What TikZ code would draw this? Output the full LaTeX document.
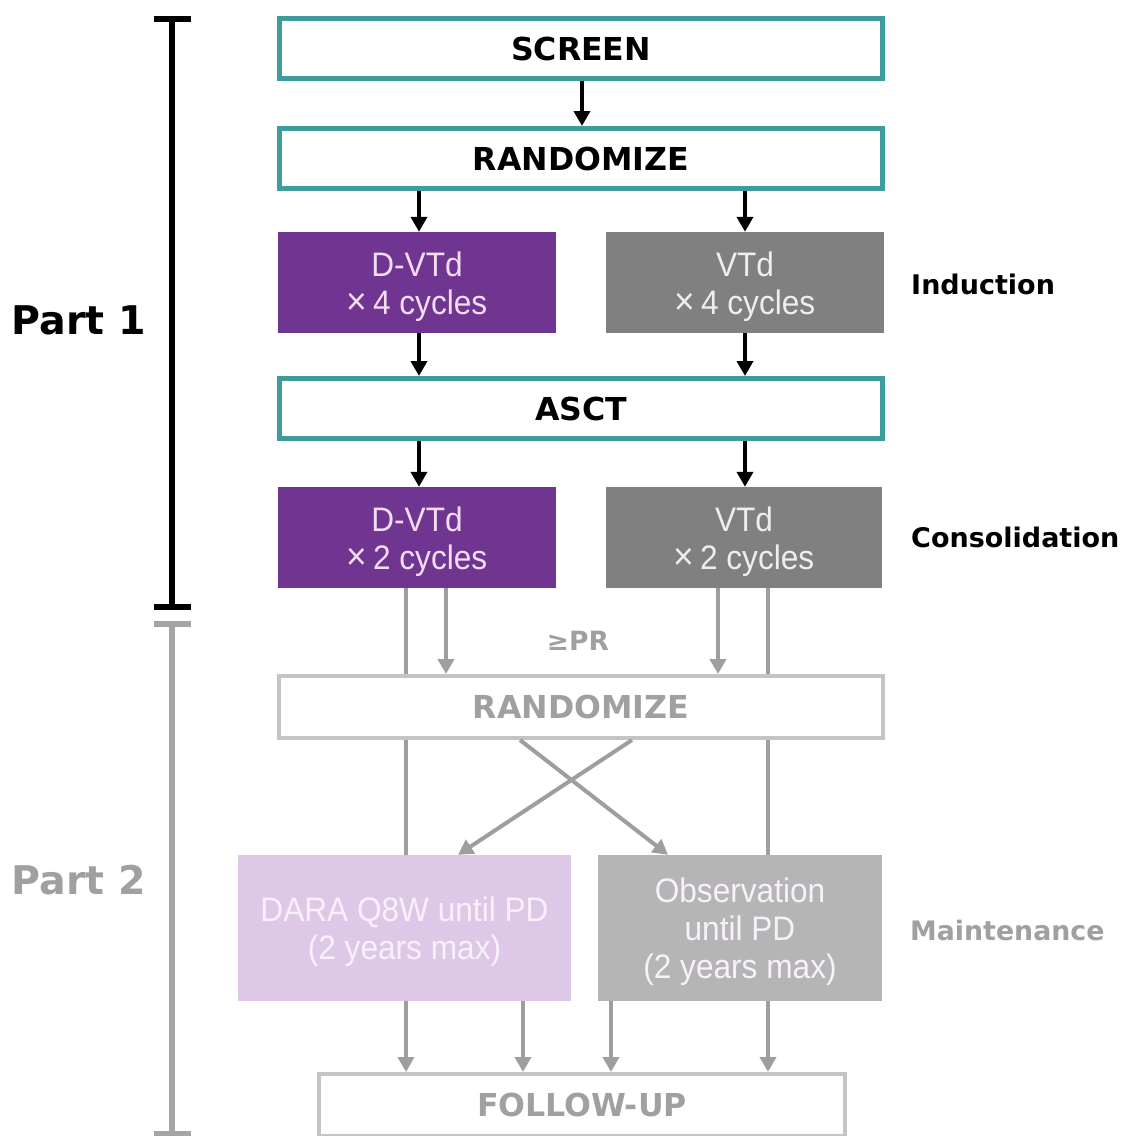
\documentclass[tikz,border=0pt]{standalone}
\usepackage{fontspec}
\setmainfont{DejaVu Sans}
\newfontfamily\narrowfont[FakeStretch=0.93]{Liberation Sans}
\usetikzlibrary{arrows.meta,backgrounds}
\definecolor{tealb}{RGB}{62,156,156}
\definecolor{purp}{RGB}{112,52,145}
\definecolor{purptext}{RGB}{242,222,244}
\definecolor{darkgr}{RGB}{128,128,128}
\definecolor{grtext}{RGB}{238,238,238}
\definecolor{lilac}{RGB}{222,200,232}
\definecolor{lilactext}{RGB}{248,240,250}
\definecolor{obsgr}{RGB}{181,181,181}
\definecolor{lightline}{RGB}{196,196,196}
\definecolor{lighttext}{RGB}{160,160,160}
\definecolor{grarrow}{RGB}{158,158,158}
\definecolor{barg}{RGB}{165,165,165}
\newcommand{\bigtimes}{{\fontsize{38}{38}\selectfont ×}\,}
\newcommand{\topfix}{\rule{0pt}{33pt}}
\begin{document}
\begin{tikzpicture}[x=1pt,y=-1pt,
  tealbox/.style={draw=tealb, line width=5pt, fill=white, minimum width=603pt, minimum height=60pt, inner sep=0pt, text=black, font=\fontsize{31.6}{38}\selectfont\bfseries},
  lightbox/.style={draw=lightline, line width=4pt, fill=white, minimum width=604pt, minimum height=62pt, inner sep=0pt, text=lighttext, font=\fontsize{31.6}{38}\selectfont\bfseries},
  armbox/.style={minimum width=278pt, minimum height=101pt, inner sep=0pt, align=center, font=\narrowfont\fontsize{34}{38}\selectfont},
  purplebox/.style={armbox, fill=purp, text=purptext},
  graybox/.style={armbox, fill=darkgr, text=grtext},
  darabox/.style={armbox, fill=lilac, text=lilactext, minimum width=333pt, minimum height=146pt},
  obsbox/.style={armbox, fill=obsgr, text=lilactext, minimum width=284pt, minimum height=146pt},
  sidelabel/.style={anchor=west, inner sep=0pt, font=\fontsize{27}{32}\selectfont\bfseries},
  partlabel/.style={inner sep=0pt, font=\fontsize{39.5}{46}\selectfont\bfseries},
  blackarrow/.style={line width=4pt, draw=black, -{Triangle[length=15pt,width=16pt]}},
  grayarrow/.style={line width=4pt, draw=grarrow, -{Triangle[length=15pt,width=16pt]}},
  grayline/.style={line width=4pt, draw=grarrow},
  barblack/.style={line width=6pt, draw=black},
  bargray/.style={line width=6pt, draw=barg}
]
\useasboundingbox (0,0) rectangle (1125,1136);

% nodes
\node[tealbox] (screen) at (581,48.5) {SCREEN};
\node[tealbox] (rand1) at (581,158.5) {RANDOMIZE};
\node[purplebox] (dvtd1) at (417,282.5) {\topfix D-VTd\\\bigtimes 4 cycles};
\node[graybox] (vtd1) at (745,282.5) {\topfix VTd\\\bigtimes 4 cycles};
\node[tealbox] (asct) at (581,408.5) {ASCT};
\node[purplebox] (dvtd2) at (417,537.5) {\topfix D-VTd\\\bigtimes 2 cycles};
\node[graybox, minimum width=276pt] (vtd2) at (744,537.5) {\topfix VTd\\\bigtimes 2 cycles};
\node[lightbox] (rand2) at (581,707) {RANDOMIZE};
\node[darabox] (dara) at (404.5,928) {\topfix DARA Q8W until PD\\(2 years max)};
\node[obsbox] (obs) at (740,928) {\topfix Observation\\until PD\\(2 years max)};
\node[lightbox, minimum width=526pt] (fu) at (582,1105) {FOLLOW-UP};

% labels
\node[partlabel, text=black] (p1) at (79,320) {Part 1};
\node[partlabel, text=lighttext] (p2) at (79,880) {Part 2};
\node[sidelabel, text=black] (ind) at (911,284) {Induction};
\node[sidelabel, text=black] (cons) at (911,537) {Consolidation};
\node[sidelabel, text=lighttext, font=\fontsize{26.8}{32}\selectfont\bfseries] (maint) at (910,930) {Maintenance};
\node[inner sep=0pt, text=lighttext, font=\fontsize{26.5}{30}\selectfont\bfseries] (pr) at (578,641) {≥PR};

% column coordinates
\coordinate (cM) at (582,0);
\coordinate (cA) at (419,0);
\coordinate (cB) at (745,0);
\coordinate (cL1) at (406,0);
\coordinate (cL2) at (446,0);
\coordinate (cR1) at (718,0);
\coordinate (cR2) at (768,0);
\coordinate (cX1) at (520,0);
\coordinate (cX2) at (632,0);
\coordinate (cX3) at (458,0);
\coordinate (cX4) at (668,0);
\coordinate (cF1) at (406,0);
\coordinate (cF2) at (523,0);
\coordinate (cF3) at (611,0);
\coordinate (cF4) at (768,0);

% black arrows
\draw[blackarrow] (screen.south -| cM) -- (rand1.north -| cM);
\draw[blackarrow] (rand1.south -| cA) -- (dvtd1.north -| cA);
\draw[blackarrow] (rand1.south -| cB) -- (vtd1.north -| cB);
\draw[blackarrow] (dvtd1.south -| cA) -- (asct.north -| cA);
\draw[blackarrow] (vtd1.south -| cB) -- (asct.north -| cB);
\draw[blackarrow] (asct.south -| cA) -- (dvtd2.north -| cA);
\draw[blackarrow] (asct.south -| cB) -- (vtd2.north -| cB);

% gray connectors
\begin{scope}[on background layer]
\draw[grayline] (dvtd2.south -| cL1) -- (dara.north -| cL1);
\draw[grayline] (vtd2.south -| cR2) -- (obs.north -| cR2);
\end{scope}
\draw[grayarrow] (dvtd2.south -| cL2) -- (rand2.north -| cL2);
\draw[grayarrow] (vtd2.south -| cR1) -- (rand2.north -| cR1);
\draw[grayarrow] (rand2.south -| cX1) -- (obs.north -| cX4);
\draw[grayarrow] (rand2.south -| cX2) -- (dara.north -| cX3);
\draw[grayarrow] (dara.south -| cF1) -- (fu.north -| cF1);
\draw[grayarrow] (dara.south -| cF2) -- (fu.north -| cF2);
\draw[grayarrow] (obs.south -| cF3) -- (fu.north -| cF3);
\draw[grayarrow] (obs.south -| cF4) -- (fu.north -| cF4);

% part bars
\coordinate (b1top) at (172,19);
\coordinate (b1bot) at (172,607);
\coordinate (b2top) at (172,624);
\coordinate (b2bot) at (172,1134);
\draw[barblack] (b1top) -- (b1bot);
\draw[barblack] (b1top) ++(-18,0) -- ++(37,0);
\draw[barblack] (b1bot) ++(-18,0) -- ++(37,0);
\draw[bargray] (b2top) -- (b2bot);
\draw[bargray] (b2top) ++(-18,0) -- ++(37,0);
\draw[bargray] (b2bot) ++(-18,0) -- ++(37,0);
\end{tikzpicture}
\end{document}
